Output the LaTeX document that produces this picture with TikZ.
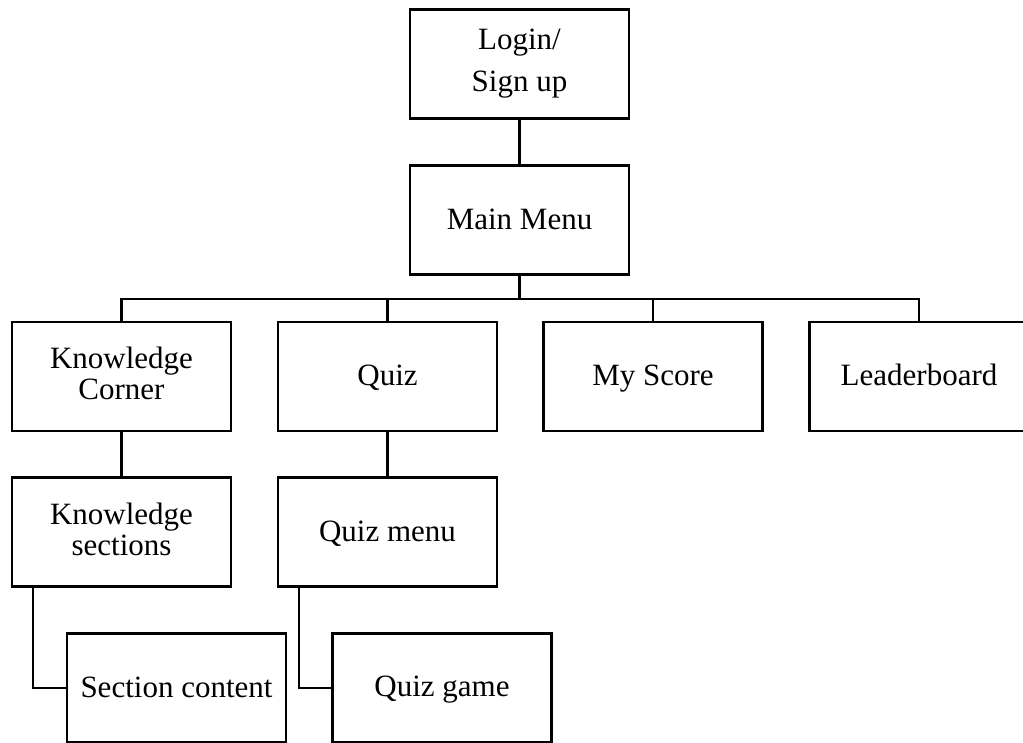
\documentclass[tikz,border=0pt]{standalone}
\usepackage{fontspec}
\setmainfont{Liberation Serif}
% fixed line height so every label sits on the same baseline
\newcommand{\labelstrut}{\rule[-6pt]{0pt}{30pt}}
\begin{document}
\begin{tikzpicture}[x=1pt,y=-1pt,
  line width=2.4pt,
  menubox/.style={draw, rectangle, minimum width=219pt, minimum height=109pt,
    inner sep=0pt, align=center, font=\fontsize{31}{31}\selectfont,
    execute at begin node=\labelstrut, execute at end node=\labelstrut},
  link/.style={draw, line width=2.2pt}]
\useasboundingbox (0,0) rectangle (1023,742);

% screens
\node[menubox] (login) at (519.5,64) {Login/\\[11pt]Sign up};
\node[menubox] (main) at (519.5,220) {Main Menu};

\node[menubox] (kc) at (121.5,376.5) {Knowledge\\Corner};
\node[menubox] (quiz) at (387.5,376.5) {Quiz};
\node[menubox] (score) at (653,376.5) {My Score};
\node[menubox] (lead) at (919,376.5) {Leaderboard};

\node[menubox] (ks) at (121.5,532) {Knowledge\\sections};
\node[menubox] (qm) at (387.5,532) {Quiz menu};

\node[menubox] (sc) at (176.5,688) {Section content};
\node[menubox] (qg) at (442,688) {Quiz game};

% links between screens
\draw[link] (login.south) -- (main.north);
\draw[link] (main.south) -- ++(0,23) coordinate (bus);
\draw[link] (kc.north) |- (bus) -| (lead.north);
\draw[link] (quiz.north) -- (quiz.north |- bus);
\draw[link] (score.north) -- (score.north |- bus);

\draw[link] (kc.south) -- (ks.north);
\draw[link] (quiz.south) -- (qm.north);

\draw[link] ([xshift=-88.5pt]ks.south) |- (sc.west);
\draw[link] ([xshift=-88.5pt]qm.south) |- (qg.west);
\end{tikzpicture}
\end{document}
